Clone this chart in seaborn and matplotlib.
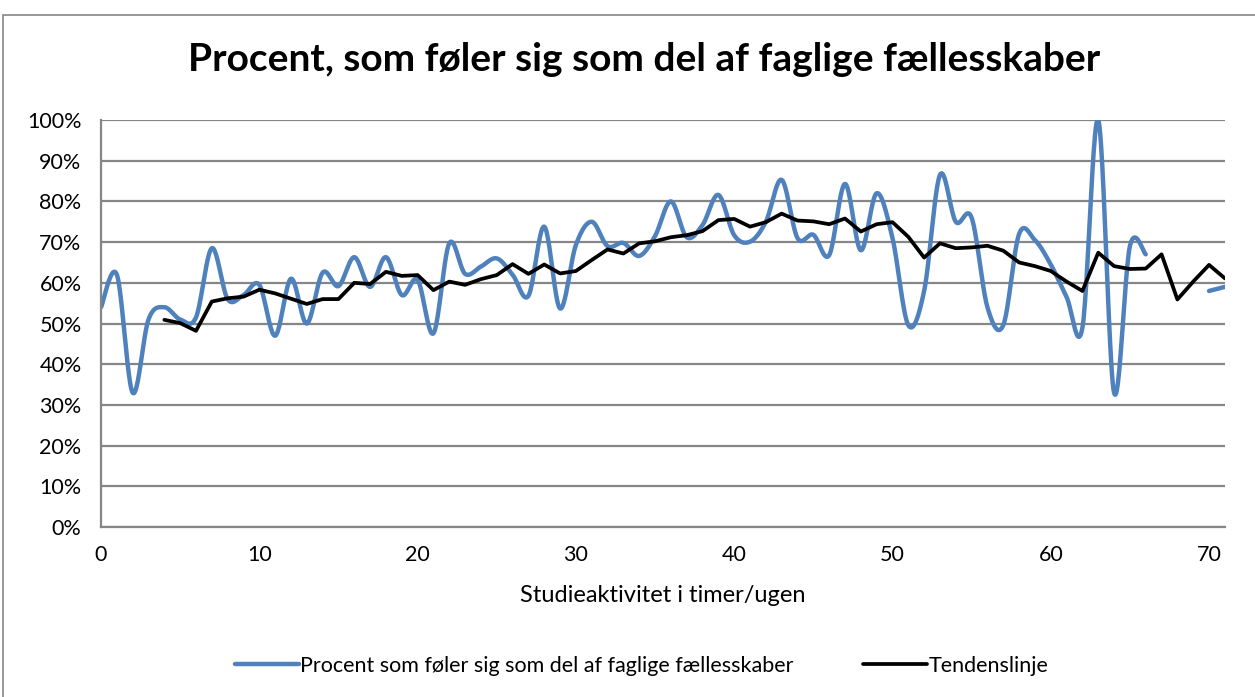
import numpy as np
import pandas as pd
import seaborn as sns
import matplotlib.pyplot as plt
from matplotlib.lines import Line2D
from matplotlib.patches import Rectangle

# Procent som føler sig som del af faglige fællesskaber (timer 0-66, 70-71)
timer_a = list(range(0, 67))
procent_a = [54, 62, 33, 51, 54, 51, 51.5, 68.5, 56, 57,
             59.5, 47, 61, 50, 62.5, 59.2, 66.3, 59, 66.3, 57,
             60.7, 47.6, 69.7, 62.2, 64, 66, 62, 56.8, 73.8, 53.7,
             69.3, 75, 69, 69.8, 66.6, 71.5, 80, 71.2, 74.2, 81.6,
             71.7, 70.1, 75, 85.3, 71, 71.8, 66.8, 84.3, 68, 82,
             71, 49.6, 58, 86.5, 75, 76, 54, 49.6, 72, 70.5,
             64.5, 56.5, 49, 100, 33, 69, 67]
timer_b = [70, 71]
procent_b = [58, 59]

# Tendenslinje (glidende gennemsnit)
timer_t = list(range(4, 72))
tendens = [50.9, 50.1, 48.2, 55.4, 56.2, 56.6, 58.3, 57.4, 56.1, 54.8,
           56, 56, 60, 59.7, 62.7, 61.7, 61.9, 58.2, 60.3, 59.5,
           60.9, 61.9, 64.6, 62.2, 64.5, 62.3, 62.9, 65.6, 68.2, 67.2,
           69.7, 70.2, 71.2, 71.7, 72.7, 75.4, 75.7, 73.8, 74.9, 77,
           75.3, 75.1, 74.4, 75.8, 72.6, 74.4, 74.9, 71.3, 66.2, 69.7,
           68.5, 68.7, 69.1, 67.9, 65, 64.1, 62.9, 60.3, 58, 67.4,
           64.1, 63.4, 63.5, 67, 55.9, 60.3, 64.4, 61.1]


def smooth(x, y, n=24):
    # Excel-style smoothed line (Catmull-Rom through the points)
    p = np.column_stack([x, y]).astype(float)
    if len(p) < 3:
        return p[:, 0], p[:, 1]
    ext = np.vstack([p[0], p, p[-1]])
    out = []
    t = np.linspace(0, 1, n, endpoint=False)[:, None]
    for i in range(1, len(ext) - 2):
        p0, p1, p2, p3 = ext[i - 1], ext[i], ext[i + 1], ext[i + 2]
        m1 = (p2 - p0) / 2
        m2 = (p3 - p1) / 2
        h00 = 2 * t**3 - 3 * t**2 + 1
        h10 = t**3 - 2 * t**2 + t
        h01 = -2 * t**3 + 3 * t**2
        h11 = t**3 - t**2
        out.append(h00 * p1 + h10 * m1 + h01 * p2 + h11 * m2)
    out.append(p[-1][None, :])
    out = np.vstack(out)
    return out[:, 0], out[:, 1]


xa, ya = smooth(timer_a, procent_a)
xb, yb = smooth(timer_b, procent_b)
df_a = pd.DataFrame({'x': xa, 'y': ya, 'del': 0})
df_b = pd.DataFrame({'x': xb, 'y': yb, 'del': 1})
df_blue = pd.concat([df_a, df_b], ignore_index=True)
df_t = pd.DataFrame({'x': timer_t, 'y': tendens})

sns.set_style('white')
plt.rcParams['font.family'] = ['Lato', 'DejaVu Sans']
plt.rcParams.update({'text.color': 'black', 'axes.labelcolor': 'black',
                     'xtick.color': 'black', 'ytick.color': 'black'})

blaa = '#4F81BD'
graa = '#868686'

fig = plt.figure(figsize=(12.55, 6.97), dpi=100)
ax = fig.add_axes([0.0805, 0.2439, 0.8955, 0.5839])

sns.lineplot(data=df_blue, x='x', y='y', units='del', estimator=None, sort=False,
             color=blaa, linewidth=3.2, ax=ax, legend=False)
sns.lineplot(data=df_t, x='x', y='y', color='black', linewidth=2.7, ax=ax, legend=False)

ax.set_xlim(0, 71)
ax.set_ylim(0, 100)
ax.set_xticks(range(0, 71, 10))
ax.set_yticks(range(0, 101, 10))
ax.set_yticklabels([f'{v}%' for v in range(0, 101, 10)])
ax.tick_params(axis='both', length=0, labelsize=15.5)
ax.tick_params(axis='y', pad=14)
ax.tick_params(axis='x', pad=13)
ax.grid(axis='y', color=graa, linewidth=1.6)
ax.set_axisbelow(True)
for s in ['top', 'right']:
    ax.spines[s].set_visible(False)
for s in ['left', 'bottom']:
    ax.spines[s].set_color(graa)
    ax.spines[s].set_linewidth(1.6)

ax.set_xlabel('Studieaktivitet i timer/ugen', fontsize=17, labelpad=14)
ax.set_ylabel('')
fig.suptitle('Procent, som føler sig som del af faglige fællesskaber',
             fontsize=28, fontweight='bold', y=0.94, x=0.513)

handles = [Line2D([], [], color=blaa, linewidth=3.2),
           Line2D([], [], color='black', linewidth=2.7)]
fig.legend(handles, ['Procent som føler sig som del af faglige fællesskaber', 'Tendenslinje'],
           loc='center', bbox_to_anchor=(0.511, 0.045), ncol=2, frameon=False,
           fontsize=15.5, handlelength=3.0, handletextpad=0.05, columnspacing=3.2)

# ramme om diagramområdet
fig.patches.append(Rectangle((3 / 1255, -0.1), 1.2, 1 - 15 / 697 + 0.1,
                             transform=fig.transFigure, fill=False,
                             edgecolor=graa, linewidth=1.2))

fig.savefig('out.png', dpi=100)
